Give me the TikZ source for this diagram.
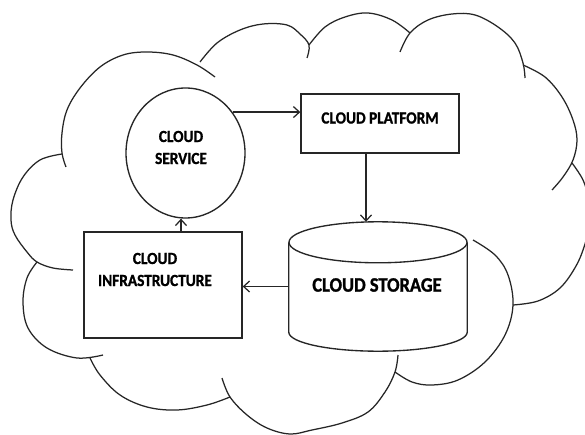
\documentclass[tikz,border=0pt]{standalone}
\usepackage{fontspec}
\setmainfont{Carlito}
\newfontfamily\labelfont[FakeStretch=0.9,FakeBold=1.2]{Carlito}
\usetikzlibrary{arrows.meta,calc,shapes.geometric}
\tikzset{
  cloudline/.style={draw=black!85, line width=1.25pt},
  shapeline/.style={draw=black!85, line width=1.35pt},
  arr/.style={draw=black!85, line width=1.25pt, -{Straight Barb[length=6pt,width=11pt]}},
  lbl/.style={font=\labelfont\bfseries\fontsize{17}{22}\selectfont, align=center, inner sep=0pt},
  biglbl/.style={font=\labelfont\bfseries\fontsize{20.5}{22}\selectfont, inner sep=0pt},
}
\begin{document}
\begin{tikzpicture}[x=1pt,y=-1pt]
\useasboundingbox (0,0) rectangle (585,435);
\fill[white] (0,0) rectangle (585,435);
% cloud outline
\draw[cloudline] plot[smooth,tension=0.6] coordinates {(66,167) (62,153) (62,133) (67,110) (80,88) (100,67) (123,55) (147,52) (173,55) (197,65) (215,77)};
\draw[cloudline] plot[smooth,tension=0.6] coordinates {(200,62) (217,43) (240,30) (263,24) (287,25) (300,34) (309,45) (307,58)};
\draw[cloudline] plot[smooth,tension=0.6] coordinates {(309,45) (325,27) (345,17) (368,13) (392,20) (410,33)};
\draw[cloudline] plot[smooth,tension=0.6] coordinates {(400,52) (410,33) (428,20) (452,14) (475,15) (498,27) (515,43) (523,63) (525,78)};
\draw[cloudline] plot[smooth,tension=0.6] coordinates {(523,65) (545,77) (562,97) (573,120) (577,140) (573,160) (563,177) (552,190)};
\draw[cloudline] plot[smooth,tension=0.6] coordinates {(572,163) (583,180) (589,200) (590,222) (585,244) (576,266) (560,288) (538,301) (513,305)};
\draw[cloudline] plot[smooth,tension=0.6] coordinates {(473,240) (495,255) (508,275) (513,305) (505,335) (485,362) (458,380) (432,385) (412,382) (395,372)};
\draw[cloudline] plot[smooth,tension=0.6] coordinates {(398,355) (395,372) (385,392) (368,412) (342,423) (312,430) (290,434) (267,428) (247,415) (230,397) (222,378)};
\draw[cloudline] plot[smooth,tension=0.6] coordinates {(90,358) (100,375) (120,395) (147,407) (177,410) (207,405) (230,397)};
\draw[cloudline] plot[smooth,tension=0.6] coordinates {(37,262) (27,278) (23,302) (28,328) (47,348) (77,358) (103,355)};
\draw[cloudline] plot[smooth,tension=0.6] coordinates {(62,154) (40,160) (23,177) (13,200) (11,220) (15,235) (27,252) (37,262) (53,268) (73,270)};
% nodes
\node[shapeline, ellipse, minimum width=119pt, minimum height=130pt, inner sep=0pt] (service) at (185.5,153) {};
\node[lbl] (servicetext) at (181,147.5) {CLOUD\\SERVICE};
\node[shapeline, rectangle, minimum width=158pt, minimum height=59pt, inner sep=0pt] (platform) at (380,123.5) {};
\node[lbl] (platformtext) at (380,118) {CLOUD PLATFORM};
\node[shapeline, rectangle, minimum width=158pt, minimum height=106pt, inner sep=0pt] (infra) at (163,285) {};
\node[lbl] (infratext) at (155,269.5) {CLOUD\\INFRASTRUCTURE};
\node[rectangle, minimum width=178pt, minimum height=129pt, inner sep=0pt] (storage) at (378,286.5) {};
\coordinate (cyltl) at ($(storage.north west)+(0,20.5)$);
\coordinate (cyltr) at ($(storage.north east)+(0,20.5)$);
\coordinate (cylbl) at ($(storage.south west)+(0,-19)$);
\coordinate (cylbr) at ($(storage.south east)+(0,-19)$);
\draw[shapeline, fill=white] (cyltl) -- (cylbl)
  .. controls ($(cylbl)+(0,10.5)$) and ($(storage.south)+(-49,0)$) .. (storage.south)
  .. controls ($(storage.south)+(49,0)$) and ($(cylbr)+(0,10.5)$) .. (cylbr)
  -- (cyltr);
\draw[shapeline] ($(storage.north)+(0,20.5)$) ellipse[x radius=89, y radius=20.5];
\node[biglbl] (storagetext) at (377,285) {CLOUD STORAGE};
% connectors
\draw[arr] (service.41.6) -- (service.41.6 -| platform.west);
\draw[arr] ([xshift=-14pt]platform.south) -- ([xshift=-12pt]storage.north);
\draw[arr] (storage.west) -- (storage.west -| infra.east);
\draw[arr] ([xshift=18pt]infra.north) -- ([xshift=-4.5pt]service.south);
\end{tikzpicture}
\end{document}
